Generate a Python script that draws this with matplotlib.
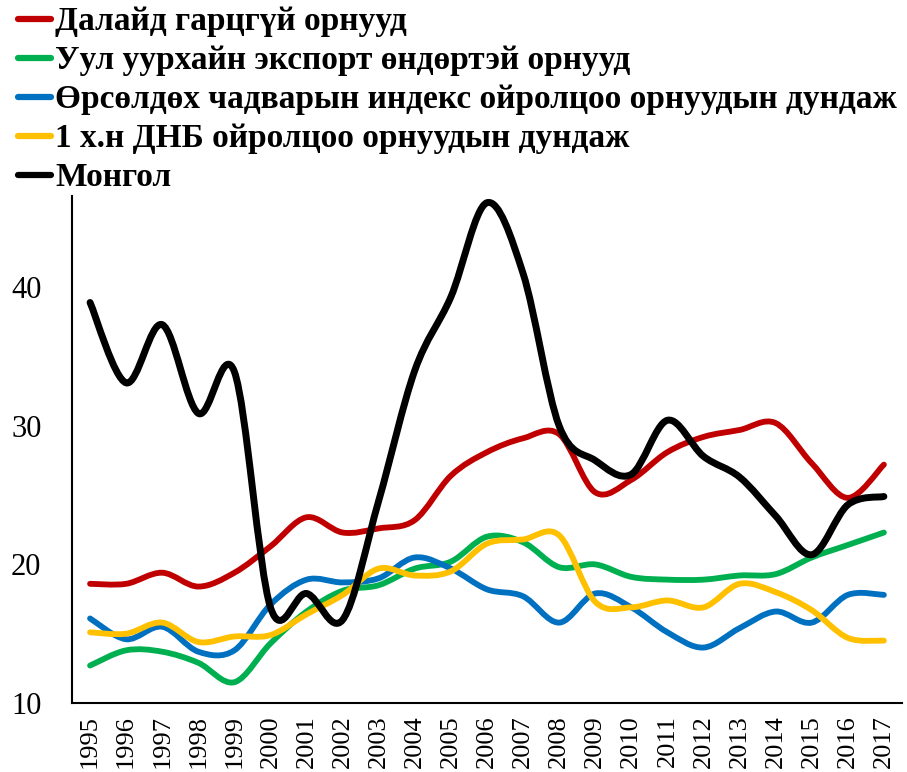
import numpy as np
import matplotlib.pyplot as plt
from matplotlib.path import Path
from matplotlib.patches import PathPatch
from matplotlib.lines import Line2D

years = [str(y) for y in range(1995, 2018)]

landlocked = [18.6, 18.6, 19.4, 18.4, 19.4, 21.3, 23.4, 22.3, 22.6, 23.2, 26.4, 28.1,
              29.1, 29.4, 25.2, 26.1, 28.1, 29.2, 29.7, 30.2, 27.3, 24.8, 27.2]
mining = [12.7, 13.8, 13.7, 12.9, 11.5, 14.3, 16.6, 18.1, 18.5, 19.7, 20.2, 22.0,
          21.6, 19.8, 20.0, 19.1, 18.9, 18.9, 19.2, 19.3, 20.5, 21.4, 22.3]
competitive = [16.1, 14.6, 15.5, 13.7, 13.8, 17.1, 18.9, 18.7, 19.0, 20.5, 19.7, 18.2,
               17.7, 15.8, 17.9, 16.9, 15.1, 14.0, 15.4, 16.6, 15.8, 17.8, 17.8]
gdp_pc = [15.1, 15.0, 15.8, 14.4, 14.8, 14.9, 16.4, 17.8, 19.7, 19.2, 19.5, 21.5,
          21.8, 22.1, 17.3, 16.9, 17.4, 16.9, 18.6, 18.0, 16.7, 14.7, 14.5]
mongolia = [38.9, 33.1, 37.3, 30.9, 33.9, 16.9, 17.9, 16.0, 24.6, 34.0, 39.3, 46.1,
            41.0, 30.0, 27.5, 26.5, 30.4, 27.8, 26.3, 23.5, 20.7, 24.3, 24.9]

labels = ["Далайд гарцгүй орнууд",
          "Уул уурхайн экспорт өндөртэй орнууд",
          "Өрсөлдөх чадварын индекс ойролцоо орнуудын дундаж",
          "1 х.н ДНБ ойролцоо орнуудын дундаж",
          "Монгол"]
colors = ["#C00000", "#00B050", "#0070C0", "#FFC000", "#000000"]
widths = [4.2, 4.2, 4.2, 4.2, 5.0]
series = [landlocked, mining, competitive, gdp_pc, mongolia]


def smooth_path(xs, ys):
    # Excel-style smoothed line as cubic Bezier segments
    p = np.column_stack([xs, ys]).astype(float)
    n = len(p)
    verts = [p[0]]
    codes = [Path.MOVETO]
    for i in range(n - 1):
        p0 = p[i - 1] if i > 0 else p[i]
        p3 = p[i + 2] if i + 2 < n else p[i + 1]
        c1 = p[i] + (p[i + 1] - p0) / 6
        c2 = p[i + 1] - (p3 - p[i]) / 6
        verts += [c1, c2, p[i + 1]]
        codes += [Path.CURVE4] * 3
    return Path(verts, codes)


plt.rcParams['font.family'] = ['Liberation Serif', 'DejaVu Serif']

fig = plt.figure(figsize=(9.07, 7.72), dpi=100)
ax = fig.add_axes([0.0794, 0.0894, 0.915, 0.657])

x = np.arange(len(years))
for vals, col, lw in zip(series, colors, widths):
    patch = PathPatch(smooth_path(x, vals), fill=False, edgecolor=col, lw=lw,
                      capstyle='round', joinstyle='round')
    ax.add_patch(patch)

ax.set_xlim(-0.5, len(years) - 0.5)
ax.set_ylim(10, 46.6)
ax.set_xticks(x)
ax.set_xticklabels(years, rotation=90, fontsize=19)
ax.set_yticks([10, 20, 30, 40])
ax.tick_params(axis='both', length=0)
ax.tick_params(axis='y', labelsize=22, pad=22)
ax.tick_params(axis='x', pad=9)
for s in ['top', 'right']:
    ax.spines[s].set_visible(False)
for s in ['left', 'bottom']:
    ax.spines[s].set_linewidth(1.5)

handles = [Line2D([0], [0], color=c, lw=4.5, solid_capstyle='round') for c in colors]
leg = fig.legend(handles, labels, loc='upper left', bbox_to_anchor=(0.02, 0.992),
                 frameon=False, prop={'weight': 'bold', 'size': 24},
                 handlelength=1.0, handletextpad=0.12, labelspacing=0.24,
                 borderaxespad=0.0, borderpad=0.0)

fig.savefig("out.png", dpi=100)
